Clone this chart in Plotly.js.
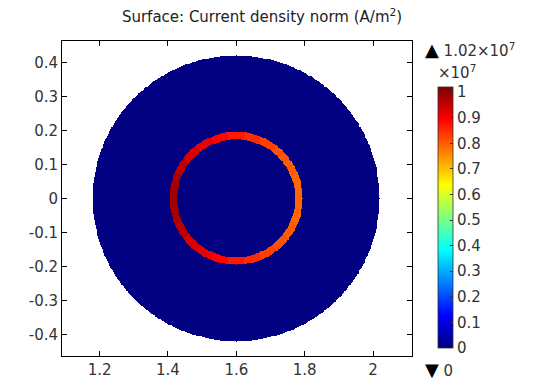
<!DOCTYPE html>
<html>
<head>
<meta charset="utf-8">
<script src="https://cdn.plot.ly/plotly-3.0.1.min.js"></script>
<style>
html,body{margin:0;padding:0;background:#fff;}
#chart{width:544px;height:386px;}
</style>
</head>
<body>
<div id="chart"></div>
<script>
// ---- data ----
// Ring (conductor) current density norm, in units of 1e7 A/m^2, sampled by angle (deg, CCW from +x)
const ringAnglesDeg = [0,15,30,45,60,75,90,105,120,135,150,165,180,195,210,225,240,255,270,285,300,315,330,345];
const ringValues    = [0.79,0.79,0.80,0.81,0.83,0.85,0.87,0.89,0.91,0.93,0.96,0.98,0.99,0.98,0.96,0.93,0.91,0.89,0.87,0.85,0.83,0.81,0.80,0.79];
// Surrounding domain value (units 1e7 A/m^2)
const domainValue = 0;
// Geometry (m)
const centerX = 1.6, centerY = 0;
const domainRadius = 0.42;
const ringInner = 0.173, ringOuter = 0.195;
// Colour range
const rangeMin = 0, rangeMax = 1.02;
// Tick labels
const xTickVals = [1.2,1.4,1.6,1.8,2.0];
const xTickText = ['1.2','1.4','1.6','1.8','2'];
const yTickVals = [-0.4,-0.3,-0.2,-0.1,0,0.1,0.2,0.3,0.4];
const yTickText = ['-0.4','-0.3','-0.2','-0.1','0','0.1','0.2','0.3','0.4'];
const cbTickVals = [0,0.1,0.2,0.3,0.4,0.5,0.6,0.7,0.8,0.9,1];
const cbTickText = ['0','0.1','0.2','0.3','0.4','0.5','0.6','0.7','0.8','0.9','1'];

// ---- build the field grid (geometry lookup of the read values) ----
const step = 0.0025;
const xs = [], ys = [];
for (let x = centerX - domainRadius - 0.005; x <= centerX + domainRadius + 0.005; x += step) xs.push(+x.toFixed(5));
for (let y = centerY - domainRadius - 0.005; y <= centerY + domainRadius + 0.005; y += step) ys.push(+y.toFixed(5));
const z = ys.map(y => xs.map(x => {
  const dx = x - centerX, dy = y - centerY;
  const r = Math.hypot(dx, dy);
  if (r > domainRadius) return null;
  if (r >= ringInner && r <= ringOuter) {
    let a = Math.atan2(dy, dx) * 180 / Math.PI;
    if (a < 0) a += 360;
    let best = 0, bd = 1e9;
    ringAnglesDeg.forEach((d, i) => {
      let diff = Math.abs(a - d); diff = Math.min(diff, 360 - diff);
      if (diff < bd) { bd = diff; best = i; }
    });
    return ringValues[best];
  }
  return domainValue;
}));

const jet = [[0,'rgb(0,0,128)'],[0.125,'rgb(0,0,255)'],[0.375,'rgb(0,255,255)'],[0.625,'rgb(255,255,0)'],[0.875,'rgb(255,0,0)'],[1,'rgb(128,0,0)']];

const font = {family:'DejaVu Sans, sans-serif', size:15, color:'#333'};

const trace = {
  type:'heatmap', x:xs, y:ys, z:z, zsmooth:false,
  colorscale:jet, zmin:rangeMin, zmax:rangeMax,
  hoverinfo:'skip',
  colorbar:{
    x:1.074, xanchor:'left', xpad:0,
    y:0.0254, yanchor:'bottom', ypad:0,
    len:0.829, lenmode:'fraction', thickness:15, thicknessmode:'pixels',
    outlinewidth:0.8, outlinecolor:'#333',
    tickvals:cbTickVals, ticktext:cbTickText,
    ticks:'inside', ticklen:3, tickcolor:'#333',
    tickfont:font
  }
};

const layout = {
  width:544, height:386,
  margin:{l:62, r:132, t:41, b:30, pad:0},
  paper_bgcolor:'#fff', plot_bgcolor:'#fff',
  font:font,
  showlegend:false,
  title:{text:'Surface: Current density norm (A/m<sup>2</sup>)', x:262/544, xanchor:'center', y:1-17/386, yanchor:'middle',
         font:{family:'DejaVu Sans, sans-serif', size:15, color:'#222'}},
  xaxis:{range:[1.09,2.114], tickvals:xTickVals, ticktext:xTickText, ticks:'inside', ticklen:5, tickcolor:'#000',
         showline:true, linecolor:'#000', linewidth:1, mirror:'ticks', showgrid:false, zeroline:false, tickfont:font},
  yaxis:{range:[-0.4627,0.4627], tickvals:yTickVals, ticktext:yTickText, ticks:'inside', ticklen:5, tickcolor:'#000',
         showline:true, linecolor:'#000', linewidth:1, mirror:'ticks', showgrid:false, zeroline:false, tickfont:font},
  annotations:[
    {xref:'paper', yref:'paper', x:(423-62)/350, y:(356-49)/315, xanchor:'left', yanchor:'middle', showarrow:false,
     text:'<span style="font-size:18px;color:#000">▲</span> 1.02×10<sup>7</sup>', font:font},
    {xref:'paper', yref:'paper', x:(436-62)/350, y:(356-72)/315, xanchor:'left', yanchor:'middle', showarrow:false,
     text:'×10<sup>7</sup>', font:font},
    {xref:'paper', yref:'paper', x:(423-62)/350, y:(356-369)/315, xanchor:'left', yanchor:'middle', showarrow:false,
     text:'<span style="font-size:18px;color:#000">▼</span> 0', font:font}
  ]
};

Plotly.newPlot('chart', [trace], layout, {staticPlot:true, displayModeBar:false});
</script>
</body>
</html>
